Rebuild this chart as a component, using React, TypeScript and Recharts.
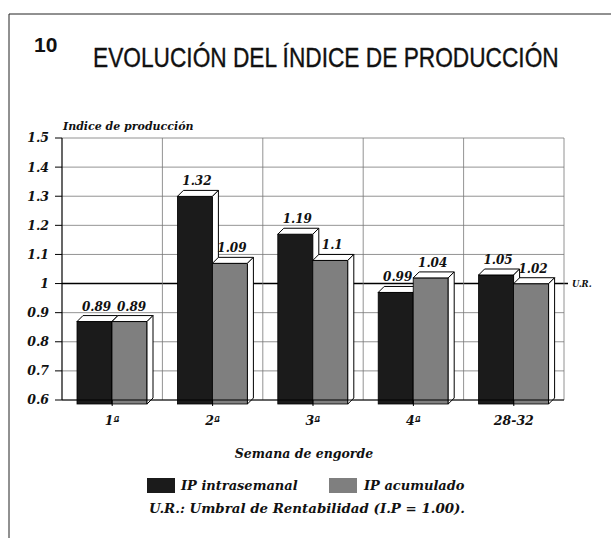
import React from "react";
import {
  BarChart, Bar, XAxis, YAxis, CartesianGrid, ReferenceLine,
} from "recharts";

// Semana de engorde
const weeks = ["1ª", "2ª", "3ª", "4ª", "28-32"];
const ipIntrasemanal = [0.89, 1.32, 1.19, 0.99, 1.05];
const ipAcumulado = [0.89, 1.09, 1.1, 1.04, 1.02];
const yTicks = [0.6, 0.7, 0.8, 0.9, 1, 1.1, 1.2, 1.3, 1.4, 1.5];
const umbral = 1;

const seriesNames = ["IP intrasemanal", "IP acumulado"];
const seriesColors = ["#1b1b1b", "#7f7f7f"];

const data = weeks.map((week, i) => ({
  week,
  intra: ipIntrasemanal[i],
  acum: ipAcumulado[i],
}));

const DEPTH = 6;
const serif = "'DejaVu Serif', 'Liberation Serif', serif";
const sans = "'Liberation Sans', Arial, sans-serif";

// bar with a small 3D top and side face
const Bar3D = (props: any) => {
  const { x, y, width, height, fill } = props;
  if (height == null || height <= 0) return null;
  const b = y + height + 4;
  const ft = y + DEPTH;
  return (
    <g>
      <rect x={x} y={ft} width={width} height={b - ft} fill={fill} stroke="#000" strokeWidth={0.8} />
      <polygon
        points={`${x},${ft} ${x + DEPTH},${y} ${x + width + DEPTH},${y} ${x + width},${ft}`}
        fill="#fff" stroke="#000" strokeWidth={1}
      />
      <polygon
        points={`${x + width},${ft} ${x + width + DEPTH},${y} ${x + width + DEPTH},${b - DEPTH} ${x + width},${b}`}
        fill="#fff" stroke="#000" strokeWidth={1}
      />
    </g>
  );
};

const renderLabel = (props: any) => {
  const { x, y, width, value } = props;
  return (
    <text
      x={x + width / 2 + 2} y={y - 5} textAnchor="middle"
      fontFamily={serif} fontWeight="bold" fontStyle="italic" fontSize={12} fill="#111"
    >
      {String(value)}
    </text>
  );
};

// grid line; the U.R. threshold is drawn bold (behind the bars)
const umbralIndex = yTicks.indexOf(umbral);
const renderHLine = (props: any) => {
  const { x1, x2, y1, y2, index } = props;
  const isUmbral = index === umbralIndex;
  return (
    <line
      key={`h-${index}`}
      x1={x1} x2={isUmbral ? x2 + 4 : x2} y1={y1} y2={y2}
      stroke={isUmbral ? "#000" : "#777"} strokeWidth={isUmbral ? 1.4 : 0.8}
    />
  );
};

const tickStyle = {
  fontFamily: serif, fontWeight: "bold", fontStyle: "italic", fontSize: 12.5, fill: "#111",
};

const textProps = {
  fontFamily: serif, fontWeight: "bold", fontStyle: "italic", fill: "#111",
};

export default function App() {
  return (
    <div style={{ position: "absolute", left: 0, top: 0, width: 611, height: 538, background: "#fff", overflow: "hidden" }}>
      <BarChart
        width={611} height={538} data={data}
        margin={{ top: 138, right: 47, bottom: 108, left: 0 }}
        barCategoryGap={15} barGap={0}
      >
        <CartesianGrid
          horizontal={renderHLine}
          stroke="#777" strokeWidth={0.8}
          verticalCoordinatesGenerator={({ offset }: any) =>
            [1, 2, 3, 4, 5].map((i) => offset.left + (offset.width * i) / 5)
          }
        />
        <XAxis
          dataKey="week" height={30} tickLine={{ stroke: "#000" }} tickSize={6}
          axisLine={{ stroke: "#000" }} tick={tickStyle} tickMargin={10}
        />
        <YAxis
          width={62} domain={[0.6, 1.5]} ticks={yTicks} interval={0}
          tickFormatter={(v: number) => String(Math.round(v * 10) / 10)}
          axisLine={{ stroke: "#000", strokeWidth: 1.2 }} tickLine={{ stroke: "#000" }}
          tickSize={7} tickMargin={6} tick={tickStyle}
        />
        <ReferenceLine
          y={umbral} stroke="none"
          label={{ value: "U.R.", position: "right", offset: 8, fontFamily: serif, fontWeight: "bold", fontStyle: "italic", fontSize: 8.5, fill: "#111" }}
        />
        <Bar dataKey="intra" name={seriesNames[0]} fill={seriesColors[0]} shape={Bar3D} label={renderLabel} isAnimationActive={false} />
        <Bar dataKey="acum" name={seriesNames[1]} fill={seriesColors[1]} shape={Bar3D} label={renderLabel} isAnimationActive={false} />
      </BarChart>

      <svg width={611} height={538} style={{ position: "absolute", left: 0, top: 0, pointerEvents: "none" }}>
        <line x1={9} y1={14} x2={611} y2={14} stroke="#222" strokeWidth={1} />
        <line x1={9} y1={14} x2={9} y2={538} stroke="#222" strokeWidth={1} />
        <text x={34} y={52} fontFamily={sans} fontWeight="bold" fontSize={21} fill="#111">10</text>
        <g transform="translate(93,67) scale(1,1.25)">
          <text x={0} y={0} fontFamily={sans} fontSize={22.7} fill="#111" stroke="#111" strokeWidth={0.3}>
            EVOLUCIÓN DEL ÍNDICE DE PRODUCCIÓN
          </text>
        </g>
        <text x={63} y={130} fontSize={11} {...textProps}>
          Indice de producción
        </text>
        <text x={304} y={458} textAnchor="middle" fontSize={12.5} {...textProps}>
          Semana de engorde
        </text>
        <rect x={147} y={478} width={28} height={15} fill={seriesColors[0]} />
        <text x={181} y={490} fontSize={13} {...textProps}>
          {seriesNames[0]}
        </text>
        <rect x={329} y={478} width={28} height={15} fill={seriesColors[1]} />
        <text x={364} y={490} fontSize={13} {...textProps}>
          {seriesNames[1]}
        </text>
        <text x={307} y={513} textAnchor="middle" fontSize={13} {...textProps} textLength={316} lengthAdjust="spacingAndGlyphs">
          U.R.: Umbral de Rentabilidad (I.P = 1.00).
        </text>
      </svg>
    </div>
  );
}
